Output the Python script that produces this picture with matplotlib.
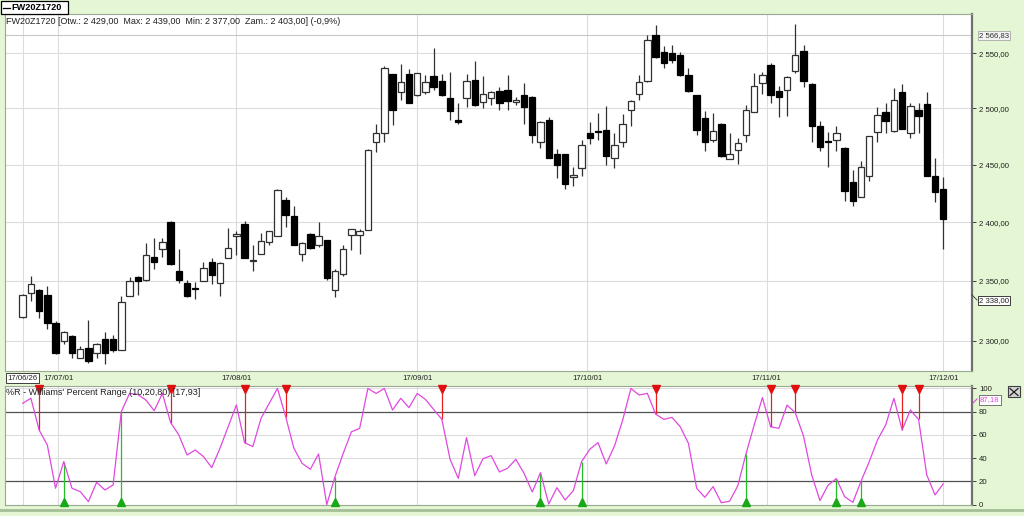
import numpy as np
import pandas as pd
import matplotlib
matplotlib.use('Agg')
import matplotlib.pyplot as plt
from matplotlib.ticker import FixedLocator, NullLocator, NullFormatter, FuncFormatter
from matplotlib.patches import Rectangle
from matplotlib.lines import Line2D

plt.rcParams['font.family'] = ['Liberation Sans', 'DejaVu Sans']

# ---------------- data ----------------
symbol = 'FW20Z1720'
start_date = '2017-06-26'
end_date = '2017-12-01'
holidays = ['2017-08-15', '2017-11-01']

opens = [2320, 2340, 2342, 2338, 2315, 2300, 2304, 2286, 2294, 2290,
         2301, 2301, 2292, 2337, 2353, 2351, 2370, 2377, 2400, 2358,
         2348, 2344, 2350, 2366, 2348, 2369, 2388, 2398, 2367, 2373,
         2383, 2388, 2419, 2405, 2373, 2390, 2380, 2385, 2342, 2356,
         2389, 2389, 2393, 2470, 2478, 2531, 2515, 2531, 2512, 2515,
         2529, 2525, 2509, 2490, 2509, 2526, 2506, 2509, 2516, 2517,
         2506, 2512, 2510, 2470, 2490, 2459, 2459, 2439, 2447, 2478,
         2480, 2481, 2456, 2470, 2499, 2513, 2525, 2567, 2551, 2550,
         2548, 2530, 2512, 2491, 2472, 2486, 2455, 2463, 2476, 2497,
         2523, 2539, 2516, 2517, 2534, 2552, 2522, 2484, 2471, 2472,
         2465, 2435, 2422, 2440, 2479, 2497, 2480, 2515, 2478, 2499,
         2504, 2440, 2429]
highs = [2339, 2354, 2343, 2346, 2316, 2308, 2305, 2296, 2317, 2298,
         2307, 2305, 2337, 2353, 2354, 2382, 2386, 2386, 2401, 2377,
         2351, 2349, 2366, 2369, 2366, 2395, 2392, 2401, 2380, 2391,
         2392, 2429, 2422, 2414, 2383, 2391, 2400, 2385, 2360, 2380,
         2394, 2394, 2464, 2486, 2538, 2531, 2540, 2536, 2532, 2530,
         2555, 2531, 2533, 2505, 2531, 2543, 2529, 2516, 2519, 2530,
         2510, 2523, 2511, 2489, 2492, 2464, 2459, 2448, 2472, 2488,
         2496, 2502, 2478, 2495, 2508, 2530, 2567, 2576, 2557, 2558,
         2551, 2537, 2512, 2498, 2496, 2487, 2478, 2474, 2503, 2532,
         2533, 2541, 2520, 2529, 2577, 2558, 2523, 2489, 2479, 2484,
         2466, 2445, 2453, 2475, 2501, 2505, 2518, 2522, 2505, 2505,
         2515, 2456, 2439]
lows = [2319, 2333, 2319, 2310, 2289, 2297, 2286, 2286, 2282, 2286,
        2281, 2291, 2292, 2337, 2338, 2350, 2360, 2370, 2363, 2348,
        2336, 2335, 2350, 2347, 2337, 2369, 2372, 2369, 2358, 2373,
        2380, 2388, 2396, 2380, 2367, 2377, 2379, 2351, 2336, 2354,
        2376, 2373, 2393, 2461, 2470, 2485, 2508, 2505, 2511, 2513,
        2517, 2511, 2490, 2486, 2501, 2502, 2500, 2503, 2499, 2499,
        2503, 2486, 2469, 2465, 2456, 2438, 2429, 2431, 2440, 2468,
        2472, 2450, 2447, 2466, 2484, 2508, 2524, 2546, 2537, 2541,
        2529, 2515, 2476, 2462, 2470, 2457, 2455, 2451, 2470, 2497,
        2513, 2505, 2492, 2493, 2532, 2519, 2470, 2462, 2448, 2462,
        2418, 2414, 2422, 2436, 2470, 2478, 2479, 2482, 2474, 2478,
        2440, 2417, 2377]
closes = [2338, 2347, 2325, 2315, 2290, 2307, 2290, 2293, 2283, 2297,
          2290, 2292, 2332, 2350, 2350, 2372, 2366, 2383, 2364, 2351,
          2337, 2343, 2361, 2355, 2365, 2378, 2390, 2369, 2368, 2384,
          2392, 2428, 2406, 2380, 2382, 2378, 2388, 2352, 2358, 2377,
          2394, 2392, 2463, 2478, 2537, 2499, 2524, 2505, 2532, 2524,
          2519, 2512, 2498, 2488, 2525, 2503, 2513, 2515, 2505, 2507,
          2508, 2501, 2476, 2488, 2456, 2450, 2433, 2441, 2467, 2474,
          2479, 2458, 2467, 2486, 2507, 2524, 2562, 2547, 2541, 2544,
          2530, 2516, 2481, 2470, 2480, 2458, 2459, 2469, 2499, 2520,
          2530, 2512, 2510, 2528, 2548, 2525, 2484, 2466, 2470, 2478,
          2427, 2418, 2448, 2475, 2494, 2489, 2508, 2482, 2502, 2493,
          2440, 2426, 2403]

wr_values = [87.2, 91.4, 64.2, 51.3, 14.1, 37.0, 14.1, 11.2, 2.6, 19.2,
             12.6, 16.9, 79.9, 95.6, 94.8, 89.9, 80.8, 95.6, 70.5, 59.9,
             42.7, 47.0, 41.3, 31.8, 48.4, 67.0, 85.7, 53.3, 49.9, 74.2,
             87.1, 99.9, 75.6, 48.4, 35.5, 30.4, 43.6, 0.0, 24.1, 44.1,
             62.6, 65.6, 99.9, 95.6, 99.9, 81.4, 91.4, 83.4, 95.6, 90.5,
             81.9, 73.3, 39.0, 22.6, 57.6, 24.9, 39.5, 42.1, 28.1, 31.3,
             39.0, 26.9, 10.9, 27.5, 0.6, 14.6, 4.0, 12.1, 37.0, 47.6,
             53.3, 35.0, 50.4, 72.7, 99.9, 94.2, 95.7, 77.9, 73.3, 75.0,
             67.0, 52.7, 14.1, 6.3, 15.5, 1.7, 2.9, 16.1, 43.6, 68.5,
             92.0, 67.0, 65.6, 85.6, 79.0, 59.0, 25.5, 3.5, 16.9, 22.4,
             6.9, 2.0, 20.1, 37.0, 55.6, 68.5, 91.4, 64.2, 81.4, 73.3,
             25.5, 8.3, 17.9]
buy_signals = [5, 12, 38, 63, 68, 88, 99, 102]
sell_signals = [2, 18, 27, 32, 51, 77, 91, 94, 107, 109]

price_ticks = [2300, 2350, 2400, 2450, 2500, 2550]
wr_ticks = [0, 20, 40, 60, 80, 100]
wr_levels = [20, 80]
max_line = 2566.83
cursor_close = 2338.00
cursor_wr = 87.18
last_wr = 17.93
title_text = 'FW20Z1720 [Otw.: 2 429,00  Max: 2 439,00  Min: 2 377,00  Zam.: 2 403,00] (-0,9%)'
wr_title = "%R - Williams' Percent Range (10,20,80) [17,93]"

# ---------------- styling ----------------
BG = '#e4f6d4'
GRID = '#dcdcdc'
MAG = '#e048e0'
GREEN = '#22c022'
RED = '#e82020'
FS = 5.6
FS_T = 6.5

O = np.array(opens, float); Hh = np.array(highs, float)
L = np.array(lows, float); C = np.array(closes, float)
wr = np.array(wr_values, float)

dates = pd.bdate_range(start_date, end_date)
dates = dates[~dates.isin(pd.to_datetime(holidays))]
n = len(dates)
x = np.arange(n)
ords = np.array([d.toordinal() for d in dates])
month_starts = pd.date_range('2017-07-01', end_date, freq='MS')
month_pos = np.interp([m.toordinal() for m in month_starts], ords, x)
month_labels = [m.strftime('%y/%m/%d') for m in month_starts]


def fmt_pl(v, pos=None):
    return f"{v:,.2f}".replace(',', ' ').replace('.', ',')


W, H = 1024, 516
fig = plt.figure(figsize=(W / 100, H / 100), dpi=100, facecolor=BG)


def fx(px):
    return px / W


def fy(py):
    return 1 - py / H


ax = fig.add_axes([fx(5), fy(371), fx(972) - fx(5), fy(14) - fy(371)])
ax2 = fig.add_axes([fx(5), fy(505), fx(972) - fx(5), fy(386) - fy(505)])

XMIN, XMAX = -2.15, 115.5
for a in (ax, ax2):
    a.set_facecolor('white')
    a.set_xlim(XMIN, XMAX)
    a.set_xticks([])
    for s in ('left', 'top', 'bottom'):
        a.spines[s].set_color('#9aaa90')
        a.spines[s].set_linewidth(0.8)
    a.spines['right'].set_color('#707070')
    a.spines['right'].set_linewidth(1.6)
    for pos in list(month_pos) + [0]:
        a.axvline(pos, color=GRID, lw=0.8, zorder=0)

# ---- price panel ----
ax.set_yscale('log')
ax.set_ylim(2275.1, 2586.2)
ax.yaxis.tick_right()
ax.yaxis.set_major_locator(FixedLocator(price_ticks))
ax.yaxis.set_minor_locator(NullLocator())
ax.yaxis.set_major_formatter(FuncFormatter(fmt_pl))
ax.yaxis.set_minor_formatter(NullFormatter())
ax.tick_params(axis='y', which='major', direction='out', length=3, width=0.6,
               pad=2, labelsize=FS, colors='#202020')
for p in price_ticks:
    ax.axhline(p, color=GRID, lw=0.8, zorder=0)
ax.axhline(max_line, color='#c8c8c8', lw=0.8, zorder=0)

up = C >= O
ax.vlines(x, L, Hh, color='#303030', lw=0.9, zorder=2)
bot = np.minimum(O, C)
hgt = np.maximum(np.abs(C - O), 0.9)
ax.bar(x[up], hgt[up], bottom=bot[up], width=0.78, color='white',
       edgecolor='#303030', linewidth=0.9, zorder=3)
ax.bar(x[~up], hgt[~up], bottom=bot[~up], width=0.78, color='black',
       edgecolor='black', linewidth=0.9, zorder=3)

# date labels
xt = ax.get_xaxis_transform()
for pos, lab in zip(month_pos, month_labels):
    ax.text(pos, -0.0205, lab, transform=xt, ha='center', va='center',
            fontsize=FS, color='#202020', clip_on=False)
ax.text(0, -0.0205, dates[0].strftime('%y/%m/%d'), transform=xt, ha='center',
        va='center', fontsize=FS, color='#202020', clip_on=False,
        bbox=dict(boxstyle='square,pad=0.18', fc='white', ec='#202020', lw=0.6))

# title
fig.text(fx(6), fy(22), title_text, fontsize=FS_T, va='center', ha='left', color='#202020')

# tab
fig.patches.append(Rectangle((fx(1), fy(13.5)), fx(67), 12.5 / H, transform=fig.transFigure,
                             fc='white', ec='black', lw=0.9))
fig.add_artist(Line2D([fx(3), fx(10)], [fy(7.5), fy(7.5)], color='black', lw=0.9))
fig.text(fx(11), fy(7.5), symbol, fontsize=6.6, fontweight='bold', va='center', ha='left')

# right labels
fig.text(fx(979), fy(35.5), fmt_pl(max_line), fontsize=FS, va='center', ha='left', color='#303030',
         bbox=dict(boxstyle='square,pad=0.18', fc='#f2f2f2', ec='#a8a8a8', lw=0.6))
fig.add_artist(Line2D([fx(972), fx(977)], [fy(295), fy(300)], color='#303030', lw=0.6))
fig.text(fx(979), fy(300.5), fmt_pl(cursor_close), fontsize=FS, va='center', ha='left', color='#202020',
         bbox=dict(boxstyle='square,pad=0.18', fc='white', ec='#202020', lw=0.6))

# ---- indicator panel ----
ax2.set_ylim(-0.3, 102)
ax2.yaxis.tick_right()
ax2.set_yticks(wr_ticks)
ax2.set_yticklabels([str(t) for t in wr_ticks])
ax2.tick_params(axis='y', direction='out', length=3, width=0.6, pad=2,
                labelsize=FS, colors='#202020')
for t in wr_ticks:
    if t in wr_levels:
        ax2.axhline(t, color='#505050', lw=0.9, zorder=1)
    else:
        ax2.axhline(t, color=GRID, lw=0.8, zorder=0)

ax2.plot(x, wr, color=MAG, lw=0.9, zorder=3)
bs = np.array(buy_signals); ss = np.array(sell_signals)
ax2.vlines(bs, 0, wr[bs], color=GREEN, lw=0.9, zorder=2)
ax2.vlines(ss, wr[ss], 100, color=RED, lw=0.9, zorder=2)
ax2.plot(bs, np.full(len(bs), 2.3), ls='none', marker='^', ms=5.5, color='#18a818',
         zorder=4, clip_on=False)
ax2.plot(ss, np.full(len(ss), 99.2), ls='none', marker='v', ms=5.5, color='#e01010',
         zorder=4, clip_on=False)

fig.text(fx(6), fy(392.5), wr_title, fontsize=FS_T, va='center', ha='left', color='#202020')
fig.add_artist(Line2D([fx(973), fx(977)], [fy(403), fy(399)], color=MAG, lw=0.8))
fig.text(fx(980), fy(400), fmt_pl(cursor_wr), fontsize=FS, va='center', ha='left', color=MAG,
         bbox=dict(boxstyle='square,pad=0.18', fc='white', ec='#606060', lw=0.6))

# close button
fig.patches.append(Rectangle((fx(1008), fy(397)), fx(12), 11 / H, transform=fig.transFigure,
                             fc='#d4d4d4', ec='#404040', lw=0.8))
fig.add_artist(Line2D([fx(1010), fx(1018)], [fy(388.5), fy(395.5)], color='#202020', lw=0.9))
fig.add_artist(Line2D([fx(1010), fx(1018)], [fy(395.5), fy(388.5)], color='#202020', lw=0.9))

# bottom strip
fig.add_artist(Line2D([0, 1], [fy(510), fy(510)], color='#a4bf98', lw=2.0))

fig.savefig('out.png', dpi=100, facecolor=BG)
